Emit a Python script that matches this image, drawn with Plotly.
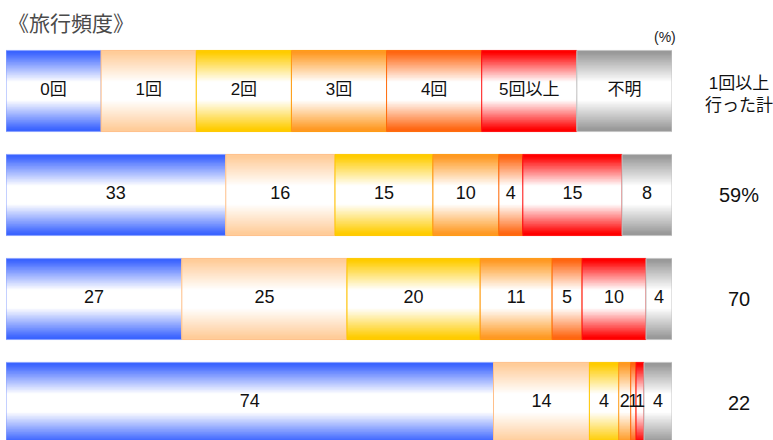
import plotly.graph_objects as go

# ---------------- data ----------------
categories = ["0回", "1回", "2回", "3回", "4回", "5回以上", "不明"]
key_shares = [1, 1, 1, 1, 1, 1, 1]          # header (key) row: equal shares

row1_values = [33.0, 16.4, 14.7, 9.9, 3.6, 14.9, 7.5]
row1_labels = ["33", "16", "15", "10", "4", "15", "8"]
row2_values = [26.4, 24.8, 20.0, 10.8, 4.5, 9.6, 3.9]
row2_labels = ["27", "25", "20", "11", "5", "10", "4"]
row3_values = [73.2, 14.4, 4.4, 1.8, 0.8, 1.2, 4.2]
row3_labels = ["74", "14", "4", "2", "1", "1", "4"]

total_header = "1回以上<br>行った計"
total_labels = ["59%", "70", "22"]

title_text = "《旅行頻度》"
unit_text = "(%)"

# ---------------- styles ----------------
edge_colors = ["#3b64ff", "#ffcc99", "#ffcc00", "#ff9922", "#ff6611", "#ff0000", "#999999"]
line_colors = ["#8aa2ff", "#ffc08a", "#ffc800", "#ff9a10", "#ff6a08", "#ff1010", "#c4c4c4"]
FONT = "Liberation Sans, Arial, Noto Sans CJK JP, sans-serif"
BAR_W = 0.78
N_LAYERS = 28


def hex_rgb(h):
    h = h.lstrip("#")
    return tuple(int(h[i:i + 2], 16) for i in (0, 2, 4))


def mix_white(h, t):
    r, g, b = hex_rgb(h)
    return "rgb(%d,%d,%d)" % (round(r + (255 - r) * t), round(g + (255 - g) * t), round(b + (255 - b) * t))


rows = [key_shares, row1_values, row2_values, row3_values]
row_labels = [categories, row1_labels, row2_labels, row3_labels]
ypos = [0, 1, 2, 3]

# normalise each row to 100 and compute stacking bases
shares, bases = [], []
for r in rows:
    tot = sum(r)
    s = [v / tot * 100 for v in r]
    b, acc = [], 0.0
    for v in s:
        b.append(acc)
        acc += v
    shares.append(s)
    bases.append(b)

fig = go.Figure()

for j in range(len(categories)):
    xs = [shares[i][j] for i in range(len(rows))]
    bs = [bases[i][j] for i in range(len(rows))]
    for k in range(N_LAYERS):
        frac = k / N_LAYERS
        t = min(1.0, max(0.0, (frac - 0.04) / 0.72))
        fig.add_trace(go.Bar(
            orientation="h", y=ypos, x=xs, base=bs, width=BAR_W * (1 - frac),
            marker=dict(color=mix_white(edge_colors[j], t), line=dict(width=0)),
            hoverinfo="skip", showlegend=False,
        ))
    # outline
    fig.add_trace(go.Bar(
        orientation="h", y=ypos, x=xs, base=bs, width=BAR_W,
        marker=dict(color="rgba(0,0,0,0)", line=dict(width=1, color=line_colors[j])),
        hoverinfo="skip", showlegend=False,
    ))

# labels inside segments
tx, ty, tt = [], [], []
for i in range(len(rows)):
    for j in range(len(categories)):
        tx.append(bases[i][j] + shares[i][j] / 2)
        ty.append(ypos[i])
        tt.append(row_labels[i][j])
sizes = [17 if y == 0 else 18 for y in ty]
fig.add_trace(go.Scatter(
    x=tx, y=ty, text=tt, mode="text", textposition="middle center",
    textfont=dict(family=FONT, size=sizes, color="#111"),
    hoverinfo="skip", showlegend=False,
))

annotations = [
    dict(text=title_text, xref="paper", yref="paper", x=0.0, y=1.038, xanchor="left",
         yanchor="middle", showarrow=False, font=dict(family=FONT, size=21, color="#4a4a4a")),
    dict(text=unit_text, xref="paper", yref="paper", x=0.9895, y=1.005, xanchor="center",
         yanchor="middle", showarrow=False, font=dict(family=FONT, size=14, color="#222")),
    dict(text=total_header, xref="paper", yref="y", x=1.1006, y=0.03, xanchor="center",
         yanchor="middle", showarrow=False, font=dict(family=FONT, size=17, color="#111")),
]
for i, lab in enumerate(total_labels):
    annotations.append(dict(text=lab, xref="paper", yref="y", x=1.1006, y=ypos[i + 1],
                            xanchor="center", yanchor="middle", showarrow=False,
                            font=dict(family=FONT, size=20, color="#111")))

fig.update_layout(
    width=773, height=440,
    margin=dict(l=6, r=101, t=39, b=0),
    barmode="overlay",
    plot_bgcolor="white", paper_bgcolor="white",
    xaxis=dict(range=[0, 100], visible=False, fixedrange=True),
    yaxis=dict(range=[3.356, -0.5], visible=False, fixedrange=True),
    annotations=annotations,
    showlegend=False,
)

fig.write_html("out.html", config={"displayModeBar": False, "staticPlot": True},
               post_script="document.body.style.margin='0';document.body.style.overflow='hidden';")
